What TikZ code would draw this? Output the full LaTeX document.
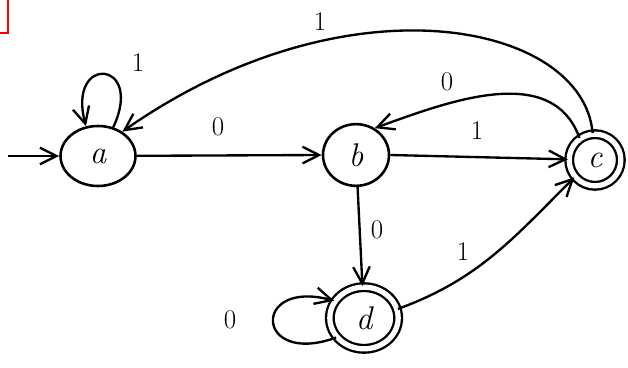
\documentclass[tikz,border=0pt]{standalone}
\usepackage{fontspec}
\usepackage{tikz}
\usetikzlibrary{arrows.meta,shapes.geometric}

\tikzset{
  state/.style={draw, line width=2.2pt, ellipse, inner sep=0pt, font=\fontsize{28}{30}\selectfont\itshape},
  accept/.style={state, line width=2pt, double, double distance=4.5pt},
  trans/.style={line width=2pt, -{Straight Barb[length=5mm, width=5mm, line width=2pt]}},
  sym/.style={font=\fontsize{23}{25}\selectfont}
}

\begin{document}
\begin{tikzpicture}[x=0.03cm, y=0.03cm]
\useasboundingbox[fill=white] (0,0) rectangle (628,367);
% --- scan mark in the corner ---
\draw[red, line width=1.8pt] (8,367) -- (8,334) -- (0,334);
% --- states ---
\node[state, minimum width=2.25cm, minimum height=1.8cm] (a) at (98,211) {a};
\node[state, minimum width=1.98cm, minimum height=1.85cm] (b) at (356,212) {b};
\node[accept, minimum width=1.55cm, minimum height=1.55cm] (c) at (595,207) {c};
\node[accept, minimum width=2.05cm, minimum height=1.85cm] (d) at (364,49) {d};
\coordinate (start) at (8,211);
% --- transitions ---
\draw[trans] (start) -- (a);
\draw[trans] (a.62) to[out=65,in=105,looseness=7] (a.112);
\node[sym] (la) at (138,304) {1};
\draw[trans] (a) -- (b.west);
\node[sym] (lab) at (218,240) {0};
\draw[trans] (b.east) -- (c);
\node[sym] (lbc) at (477,236) {1};
\draw[trans] (c.125) to[out=110,in=20] (b.55);
\node[sym] (lcb) at (447,285) {0};
\draw[trans] (c.95) to[out=95,in=35,out looseness=0.6,in looseness=1.5] (a.45);
\node[sym] (lca) at (320,345) {1};
\draw[trans] (b) -- (d);
\node[sym] (lbd) at (377,137) {0};
\draw[trans] (d.15) to[out=20,in=225] (c.220);
\node[sym] (ldc) at (463,115) {1};
\draw[trans] (d.215) to[out=200,in=165,looseness=6] (d.150);
\node[sym] (ld) at (230,47) {0};
\end{tikzpicture}
\end{document}
